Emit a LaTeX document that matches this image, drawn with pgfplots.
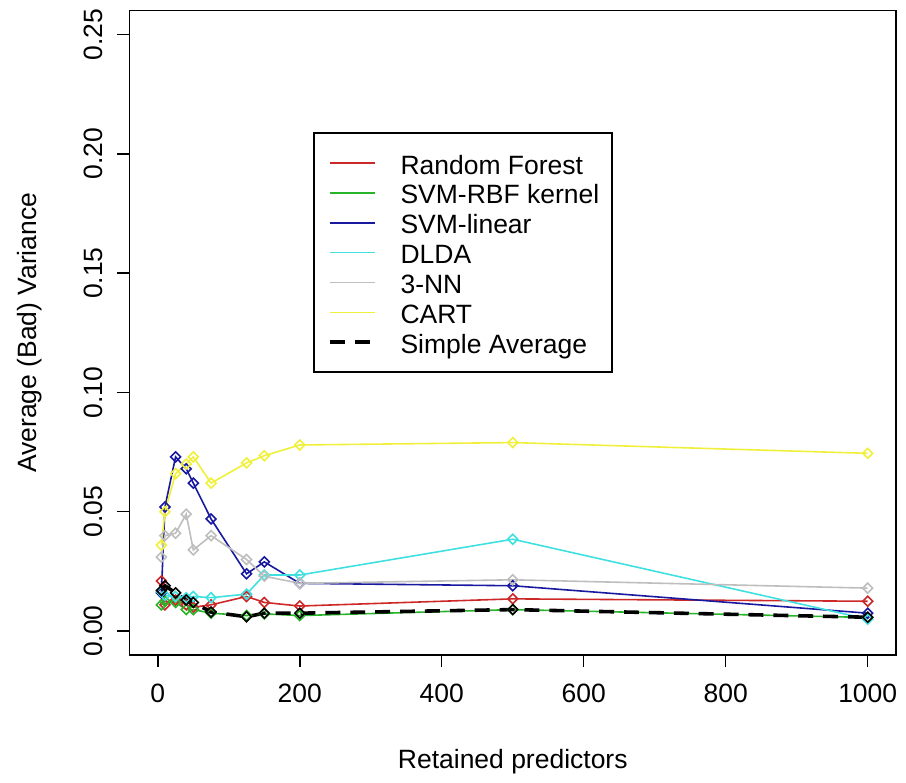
\documentclass[border=0pt]{standalone}
\usepackage{fontspec}
\setmainfont{Liberation Sans}
\usepackage{pgfplots}
\pgfplotsset{compat=1.18}

\definecolor{rfred}{RGB}{205,40,40}
\definecolor{rbfgreen}{RGB}{40,180,40}
\definecolor{linblue}{RGB}{25,25,160}
\definecolor{dldacyan}{RGB}{64,224,224}
\definecolor{nngray}{RGB}{190,190,190}
\definecolor{cartyellow}{RGB}{240,240,60}

% retained predictors vs average (bad) variance
\pgfplotstableread{
x     rf      rbf     lin     dlda    nn      cart    avg
5     0.0210  0.0110  0.0160  0.0165  0.0310  0.0360  0.0170
10    0.0110  0.0125  0.0520  0.0150  0.0400  0.0500  0.0190
25    0.0130  0.0120  0.0730  0.0145  0.0410  0.0660  0.0160
40    0.0110  0.0090  0.0680  0.0140  0.0490  0.0700  0.0130
50    0.0100  0.0090  0.0620  0.0145  0.0340  0.0730  0.0120
75    0.0110  0.0075  0.0470  0.0140  0.0400  0.0620  0.0080
125   0.0145  0.0065  0.0240  0.0155  0.0300  0.0705  0.0060
150   0.0120  0.0072  0.0290  0.0235  0.0230  0.0735  0.0075
200   0.0105  0.0065  0.0200  0.0235  0.0200  0.0780  0.0075
500   0.0135  0.0090  0.0190  0.0385  0.0215  0.0790  0.0090
1000  0.0125  0.0057  0.0075  0.0050  0.0180  0.0745  0.0058
}\vardata

\begin{document}
\fontsize{13.3}{16}\selectfont
\begin{tikzpicture}
\begin{axis}[
  scale only axis,
  width=385pt, height=323.5pt,
  xmin=-40, xmax=1040,
  ymin=-0.01, ymax=0.26,
  xtick={0,200,400,600,800,1000},
  ytick={0,0.05,0.10,0.15,0.20,0.25},
  tick align=outside,
  major tick length=6pt,
  tick style={black, line width=0.7pt},
  axis line style={line width=0.7pt},
  xtick pos=bottom, ytick pos=left,
  /pgf/number format/assume math mode=true,
  /pgf/number format/1000 sep={},
  yticklabel={\pgfmathprintnumber[fixed,fixed zerofill,precision=2]{\tick}},
  yticklabel style={xshift=-3pt, rotate=90, anchor=south},
  xticklabel style={anchor=north, yshift=-4pt},
  xlabel={Retained predictors},
  ylabel={Average (Bad) Variance},
  xlabel style={at={(axis description cs:0.5,-0.165)}, anchor=center},
  ylabel style={at={(axis description cs:-0.13,0.5)}, anchor=center},
  every axis plot/.append style={line width=0.8pt, mark=diamond, mark size=2.5pt,
    mark options={solid, xscale=1.33}},
  legend cell align=left,
  legend image code/.code={\path[draw=none, fill=none] (0pt,-1pt) rectangle (0pt,1pt);
    \draw[#1, mark=none] (3.5pt,0pt) -- (26pt,0pt);},
  legend style={at={(0.240,0.811)}, anchor=north west, draw=black,
    line width=0.7pt, inner xsep=4.5pt, inner ysep=7.5pt,
    column sep=10pt, row sep=0pt,
    nodes={inner xsep=2pt, inner ysep=0pt, text height=13pt, text depth=2pt},
    font=\fontsize{13.3}{16}\selectfont},
]
\addplot[rfred] table[x=x, y=rf] {\vardata};
\addlegendentry{Random Forest}
\addplot[rbfgreen] table[x=x, y=rbf] {\vardata};
\addlegendentry{SVM-RBF kernel}
\addplot[linblue] table[x=x, y=lin] {\vardata};
\addlegendentry{SVM-linear}
\addplot[dldacyan] table[x=x, y=dlda] {\vardata};
\addlegendentry{DLDA}
\addplot[nngray] table[x=x, y=nn] {\vardata};
\addlegendentry{3-NN}
\addplot[cartyellow] table[x=x, y=cart] {\vardata};
\addlegendentry{CART}
\addplot[black, line width=1.8pt, dash pattern=on 7.5pt off 5pt,
  mark options={solid, line width=0.8pt, xscale=1.33}] table[x=x, y=avg] {\vardata};
\addlegendentry{Simple Average}
\end{axis}
\path ([shift={(-65pt,-63pt)}]current axis.south west)
  rectangle ([shift={(3pt,4pt)}]current axis.north east);
\end{tikzpicture}
\end{document}
